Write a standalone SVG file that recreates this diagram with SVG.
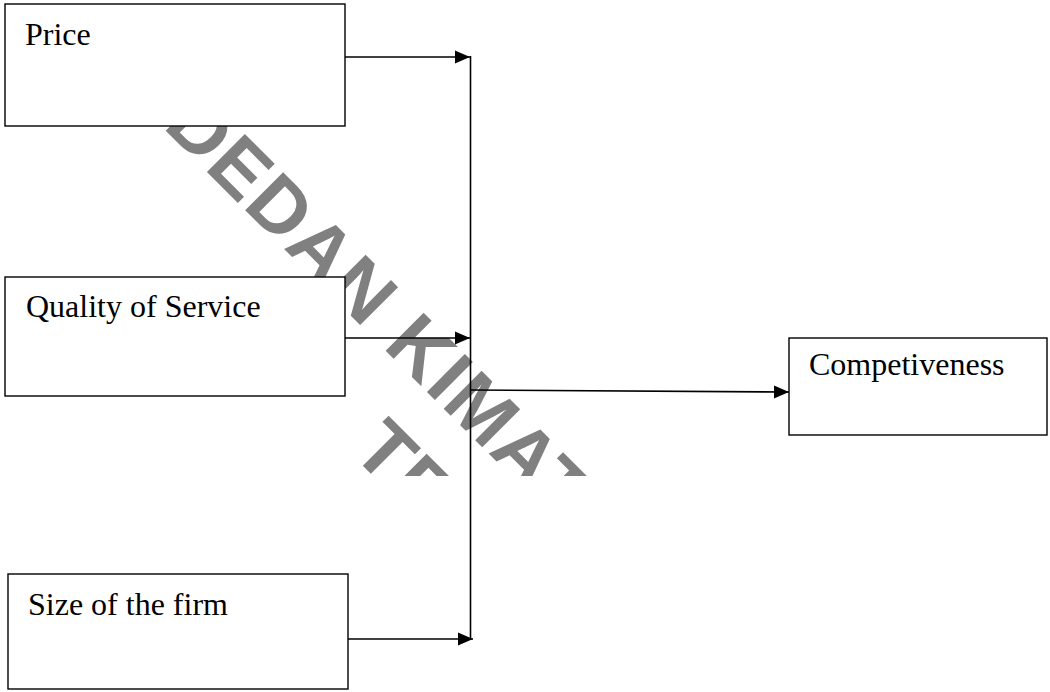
<svg xmlns="http://www.w3.org/2000/svg" width="1050" height="692" viewBox="0 0 1050 692">
<style>
.box{fill:#fff;stroke:#000;stroke-width:1.4}
.lbl{font-family:"Liberation Serif","Times New Roman",serif;font-size:32px;fill:#000}
.wm{font-family:"Liberation Sans",Arial,sans-serif;font-weight:bold;font-size:78px;letter-spacing:2px;fill:#808080}
.ln{stroke:#000;stroke-width:1.6;fill:none}
</style>
<defs>
<marker id="ah" markerUnits="userSpaceOnUse" markerWidth="16" markerHeight="14" refX="15" refY="7" orient="auto">
<polygon points="0,0.5 15,7 0,13.5" fill="#000"/>
</marker>
<clipPath id="wmclip"><rect x="0" y="0" width="1050" height="476"/></clipPath>
</defs>
<rect width="1050" height="692" fill="#fff"/>
<g id="watermark" clip-path="url(#wmclip)">
<text class="wm" transform="translate(162,127) rotate(45)">DEDAN KIMAT</text>
<text class="wm" transform="translate(350,453) rotate(45)">TE</text>
</g>
<g id="price"><rect class="box" x="5" y="4" width="340" height="122"/><text class="lbl" x="25" y="45">Price</text></g>
<g id="quality"><rect class="box" x="5" y="277" width="340" height="119"/><text class="lbl" x="26" y="317">Quality of Service</text></g>
<g id="size"><rect class="box" x="8" y="574" width="340" height="115"/><text class="lbl" x="28" y="615">Size of the firm</text></g>
<g id="competiveness"><rect class="box" x="789" y="338" width="258" height="97"/><text class="lbl" x="809" y="375">Competiveness</text></g>
<g id="connectors">
<line class="ln" x1="345" y1="57" x2="470" y2="57" marker-end="url(#ah)"/>
<line class="ln" x1="345" y1="338" x2="470" y2="338" marker-end="url(#ah)"/>
<line class="ln" x1="348" y1="639" x2="473" y2="639" marker-end="url(#ah)"/>
<line class="ln" x1="470.5" y1="56" x2="470.5" y2="639"/>
<line class="ln" x1="470" y1="390" x2="789" y2="392" marker-end="url(#ah)"/>
</g>
</svg>
